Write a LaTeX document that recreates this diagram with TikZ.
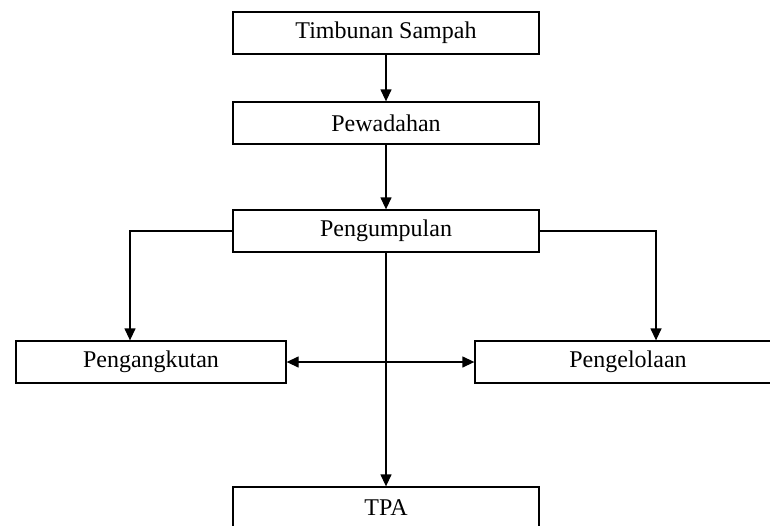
\documentclass[tikz,border=0pt]{standalone}
\usepackage{fontspec}
\setmainfont{Liberation Serif}
\usetikzlibrary{positioning, arrows.meta}

\begin{document}
\begin{tikzpicture}[>={Triangle[length=12pt, width=11pt]}, x=1pt, y=1pt, on grid, line width=1.3pt,
    box/.style={draw, rectangle, minimum width=306pt, minimum height=42pt, inner sep=0pt,
        font=\fontsize{24}{28}\selectfont}]
    \useasboundingbox (0,0) rectangle (770,-525);
    \clip (0,0) rectangle (770,-525);

    % Boxes
    \node[box] (timbunan) at (386,-33) {Timbunan Sampah};
    \node[box] (pewadahan) [below=90pt of timbunan] {Pewadahan};
    \node[box] (pengumpulan) [below=108pt of pewadahan] {Pengumpulan};
    \node[box, minimum width=270pt] (pengangkutan) [below left=131pt and 235pt of pengumpulan] {Pengangkutan};
    \node[box] (pengelolaan) [below right=131pt and 242pt of pengumpulan] {Pengelolaan};
    \node[box] (tpa) [below=277pt of pengumpulan] {TPA};

    % Arrows
    \draw[->] (timbunan) -- (pewadahan);
    \draw[->] (pewadahan) -- (pengumpulan);
    \draw[->] (pengumpulan) -- (tpa);
    \draw[->] (pengumpulan.west) -| ([xshift=-21pt]pengangkutan.north);
    \draw[->] (pengumpulan.east) -| ([xshift=28pt]pengelolaan.north);
    \draw[<->] (pengangkutan) -- (pengelolaan);
\end{tikzpicture}
\end{document}
